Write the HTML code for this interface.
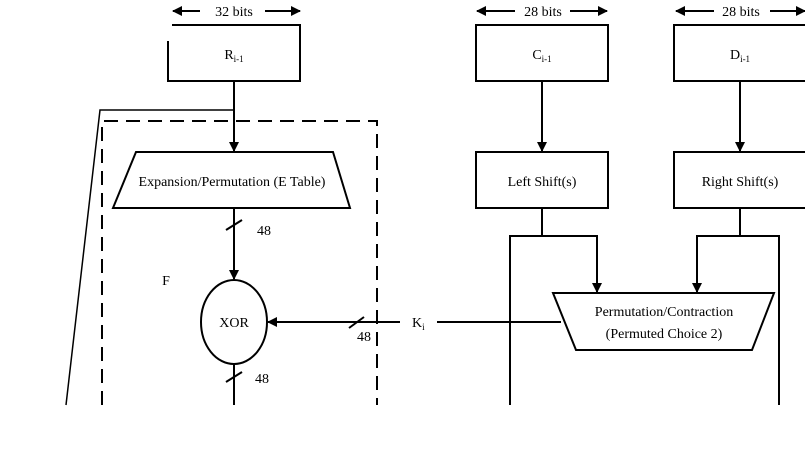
<!DOCTYPE html>
<html><head><style>body{margin:0;background:#fff}svg{display:block}</style></head><body>
<svg width="805" height="455" viewBox="0 0 805 455" xmlns="http://www.w3.org/2000/svg" font-family="Liberation Serif, serif" font-size="14">
<defs><marker id="a" markerWidth="10" markerHeight="10" refX="9" refY="5" orient="auto" markerUnits="userSpaceOnUse"><path d="M0,0 L10,5 L0,10 z" fill="#000"/></marker></defs>
<g stroke="#000" stroke-width="2" fill="none">
<line x1="200" y1="11" x2="173" y2="11" marker-end="url(#a)"/><line x1="265" y1="11" x2="300" y2="11" marker-end="url(#a)"/>
<line x1="515" y1="11" x2="477" y2="11" marker-end="url(#a)"/><line x1="570" y1="11" x2="607" y2="11" marker-end="url(#a)"/>
<line x1="714" y1="11" x2="676" y2="11" marker-end="url(#a)"/><line x1="770" y1="11" x2="805" y2="11" marker-end="url(#a)"/>
<polyline points="172,25 300,25 300,81 168,81 168,41"/>
<rect x="476" y="25" width="132" height="56"/>
<rect x="674" y="25" width="132" height="56"/>
<rect x="476" y="152" width="132" height="56"/>
<rect x="674" y="152" width="132" height="56"/>
<polygon points="136,152 333,152 350,208 113,208"/>
<polygon points="553,293 774,293 752,350 576,350"/>
<ellipse cx="234" cy="322" rx="33" ry="42"/>
<line x1="234" y1="81" x2="234" y2="151" marker-end="url(#a)"/>
<polyline points="234,110 100,110 66,405" stroke-width="1.5"/>
<line x1="234" y1="208" x2="234" y2="279" marker-end="url(#a)"/>
<line x1="234" y1="364" x2="234" y2="405"/>
<line x1="226" y1="230" x2="242" y2="220"/>
<line x1="226" y1="382" x2="242" y2="372"/>
<line x1="400" y1="322" x2="268" y2="322" marker-end="url(#a)"/>
<line x1="349" y1="328" x2="364" y2="317"/>
<line x1="437" y1="322" x2="561" y2="322"/>
<polyline points="102,405 102,121 377,121 377,405" stroke-dasharray="14,8"/>
<line x1="542" y1="81" x2="542" y2="151" marker-end="url(#a)"/>
<line x1="740" y1="81" x2="740" y2="151" marker-end="url(#a)"/>
<line x1="542" y1="208" x2="542" y2="236"/>
<polyline points="510,405 510,236 597,236 597,292" marker-end="url(#a)"/>
<line x1="740" y1="208" x2="740" y2="236"/>
<polyline points="779,405 779,236 697,236 697,292" marker-end="url(#a)"/>
</g>
<g fill="#000">
<text x="234" y="16" text-anchor="middle">32 bits</text>
<text x="543" y="16" text-anchor="middle">28 bits</text>
<text x="741" y="16" text-anchor="middle">28 bits</text>
<text x="234" y="59" text-anchor="middle">R<tspan font-size="9" dy="3">i-1</tspan></text>
<text x="542" y="59" text-anchor="middle">C<tspan font-size="9" dy="3">i-1</tspan></text>
<text x="740" y="59" text-anchor="middle">D<tspan font-size="9" dy="3">i-1</tspan></text>
<text x="542" y="186" text-anchor="middle">Left Shift(s)</text>
<text x="740" y="186" text-anchor="middle">Right Shift(s)</text>
<text x="232" y="186" text-anchor="middle">Expansion/Permutation (E Table)</text>
<text x="664" y="316" text-anchor="middle">Permutation/Contraction</text>
<text x="664" y="338" text-anchor="middle">(Permuted Choice 2)</text>
<text x="234" y="327" text-anchor="middle">XOR</text>
<text x="166" y="285" text-anchor="middle">F</text>
<text x="264" y="235" text-anchor="middle">48</text>
<text x="262" y="383" text-anchor="middle">48</text>
<text x="364" y="341" text-anchor="middle">48</text>
<text x="412" y="327">K<tspan font-size="9" dy="3">i</tspan></text>
</g>
</svg>
</body></html>
